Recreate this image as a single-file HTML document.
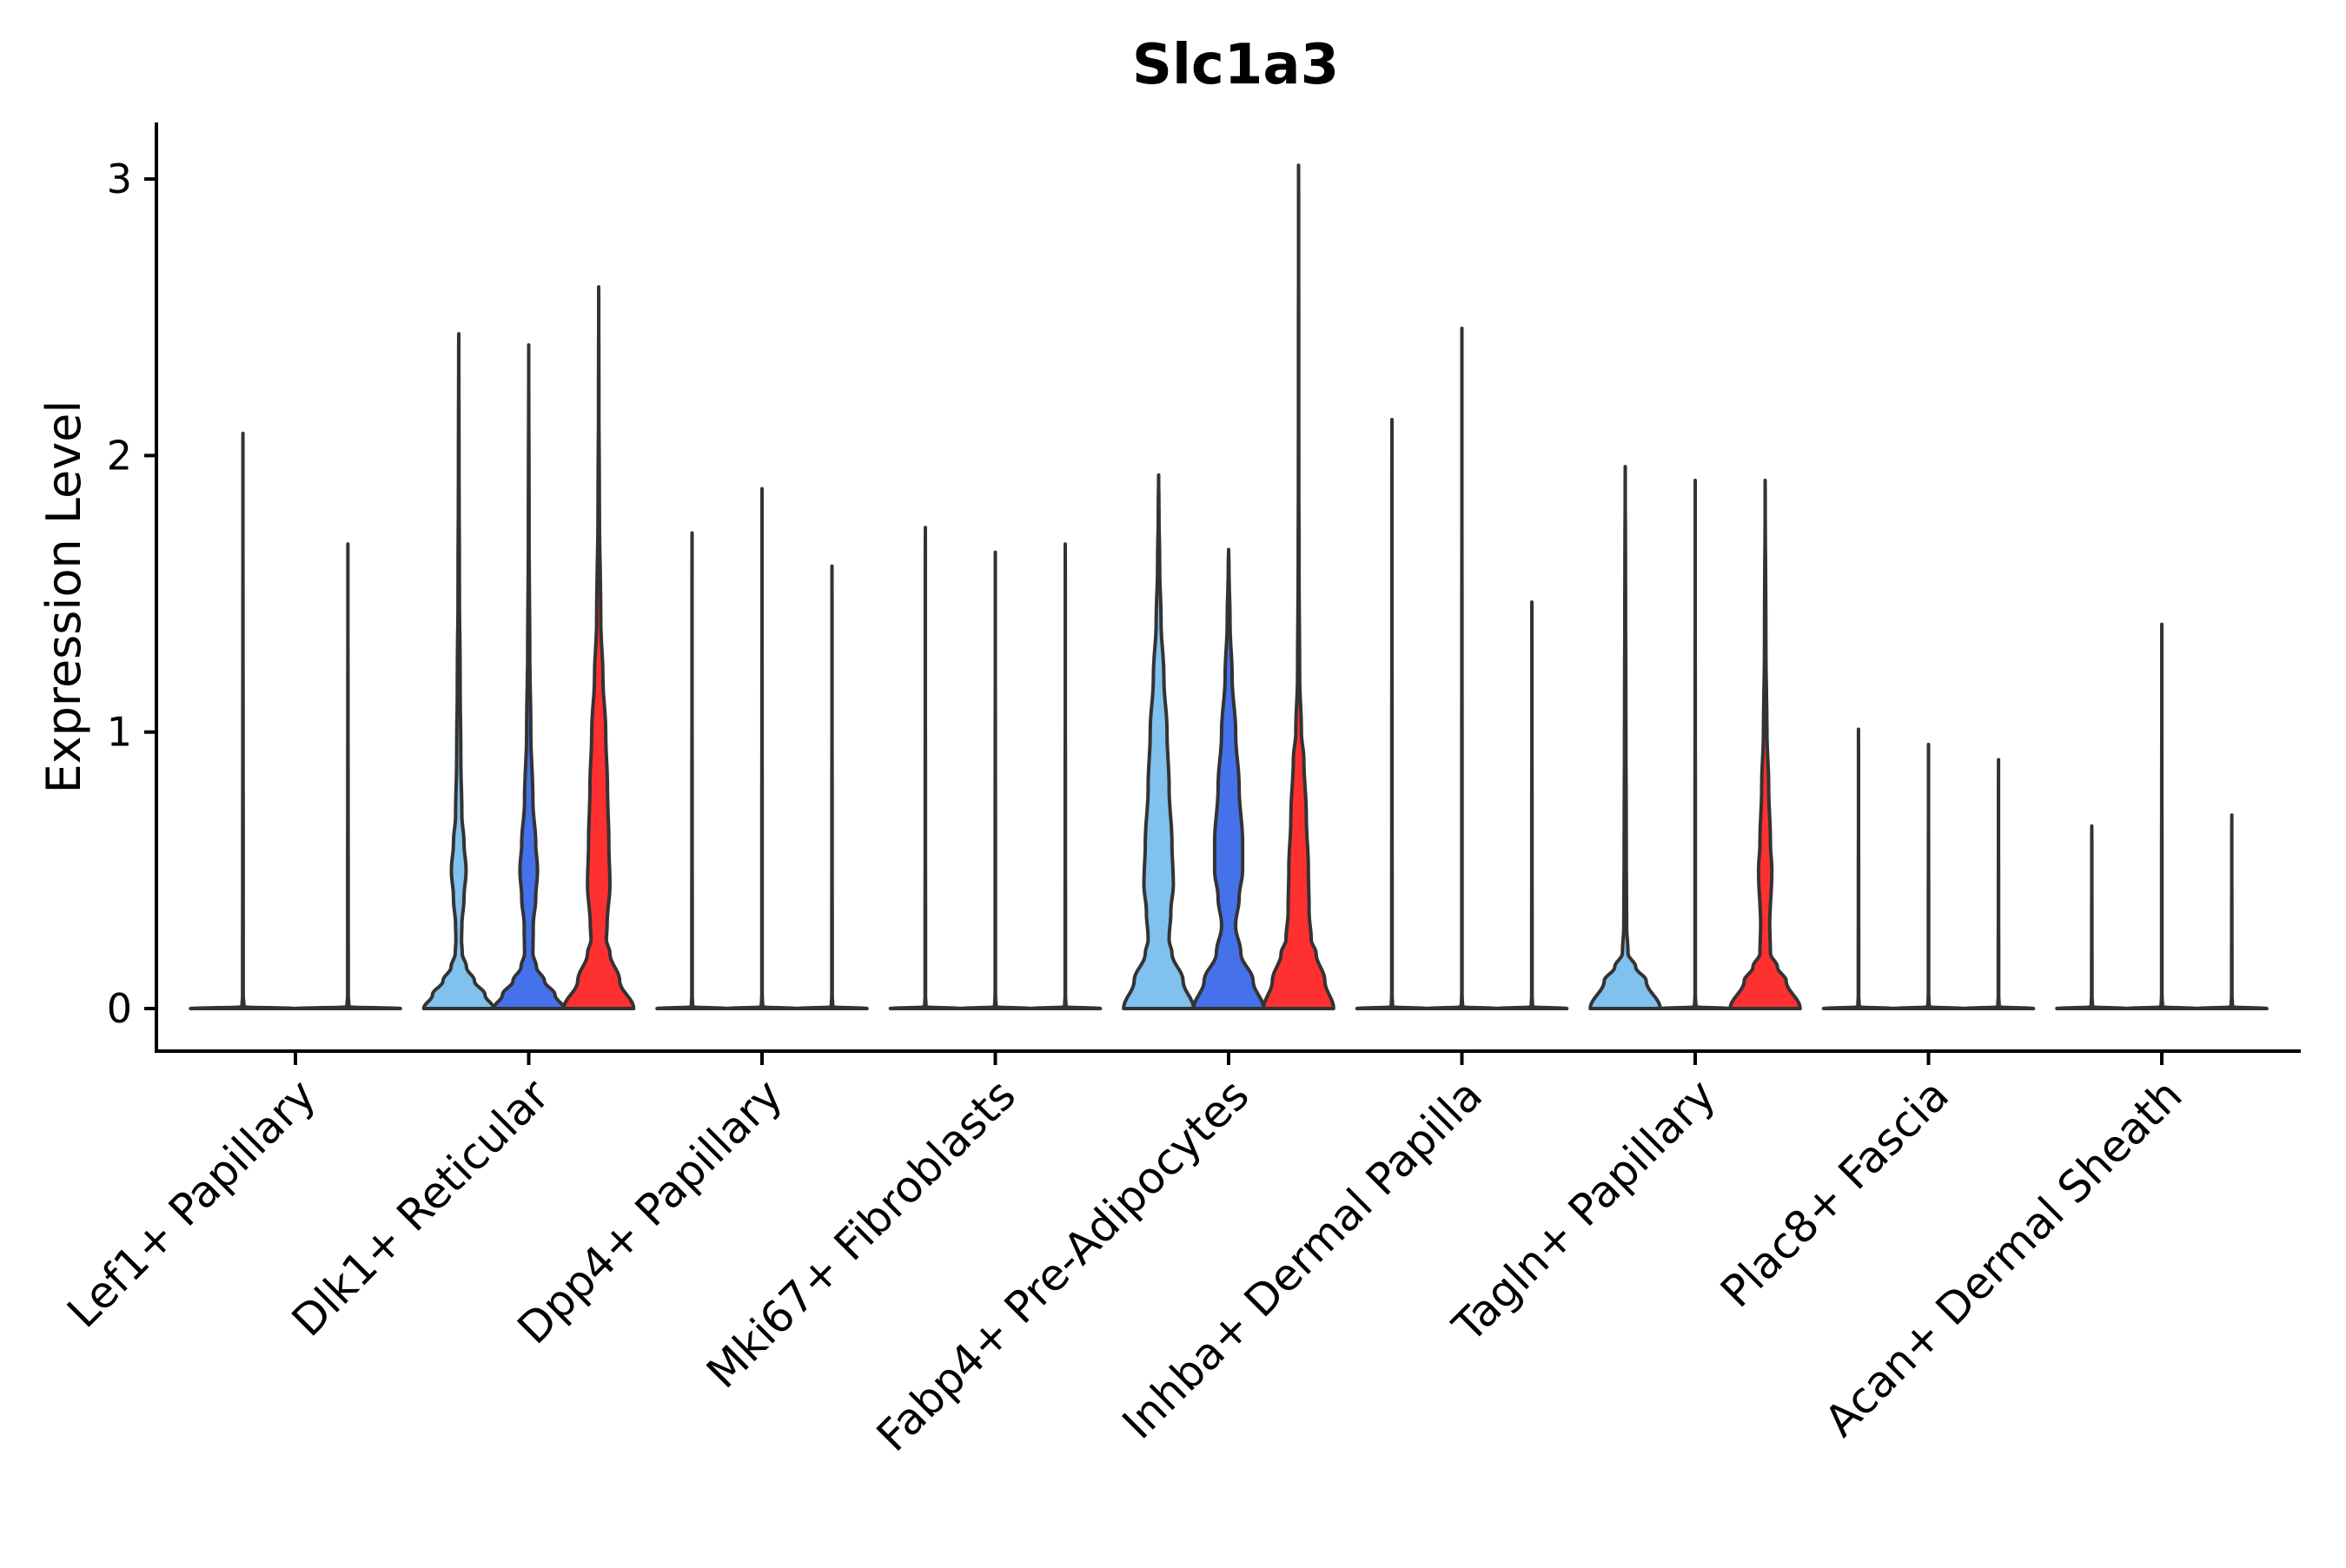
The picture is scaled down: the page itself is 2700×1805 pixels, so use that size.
<!DOCTYPE html>
<html><head><meta charset="utf-8"><style>
html,body{margin:0;padding:0;background:#fff}
svg text{font-family:"DejaVu Sans","Liberation Sans",sans-serif;fill:#000}
</style></head><body>
<svg id="chart" width="2700" height="1800" viewBox="0 0 2700 1800" xmlns="http://www.w3.org/2000/svg">
<rect width="2700" height="1800" fill="#fff"/>
<text x="1422" y="96" font-size="64" font-weight="bold" text-anchor="middle">Slc1a3</text>
<text transform="translate(92,687) rotate(-90)" font-size="54" text-anchor="middle">Expression Level</text>
<g id="plot"></g>
</svg>
<script>
const categories = ["Lef1+ Papillary","Dlk1+ Reticular","Dpp4+ Papillary","Mki67+ Fibroblasts","Fabp4+ Pre-Adipocytes","Inhba+ Dermal Papilla","Tagln+ Papillary","Plac8+ Fascia","Acan+ Dermal Sheath"];
const seriesColors = ["#80c1ee","#4571eb","#ff3030"];
// max value per violin; null = series absent
const maxLightBlue = [2.08, 2.44, 1.72, 1.74, 1.93, 2.13, 1.96, 1.01, 0.66];
const maxBlue      = [null, 2.40, 1.88, 1.65, 1.66, 2.46, 1.91, 0.955, 1.39];
const maxRed       = [1.68, 2.61, 1.60, 1.68, 3.05, 1.47, 1.91, 0.90, 0.70];
// density profiles: [value, relative half-width]
const flatProfile = [[0,1],[0.006,0.02],[0.05,0.006]];
const dlk1Light = [[0,1],[0.05,0.75],[0.1,0.45],[0.15,0.22],[0.2,0.1],[0.25,0.08],[0.3,0.09],[0.4,0.15],[0.5,0.21],[0.6,0.15],[0.7,0.09],[0.9,0.06],[1.2,0.04],[1.5,0.02],[2.0,0.008]];
const dlk1Blue  = [[0,1],[0.05,0.75],[0.1,0.45],[0.15,0.22],[0.2,0.12],[0.3,0.13],[0.4,0.2],[0.5,0.25],[0.6,0.2],[0.75,0.12],[1.0,0.06],[1.3,0.03],[1.7,0.01]];
const dlk1Red   = [[0,1],[0.1,0.6],[0.2,0.32],[0.25,0.22],[0.3,0.24],[0.45,0.32],[0.6,0.29],[0.8,0.25],[1.0,0.2],[1.2,0.12],[1.4,0.06],[1.8,0.02],[2.2,0.006]];
const fabpLight = [[0,1],[0.1,0.7],[0.2,0.38],[0.25,0.3],[0.35,0.35],[0.45,0.42],[0.6,0.38],[0.8,0.3],[1.0,0.24],[1.2,0.15],[1.4,0.07],[1.6,0.03],[1.8,0.01]];
const fabpBlue  = [[0,1],[0.1,0.7],[0.2,0.35],[0.3,0.2],[0.4,0.3],[0.5,0.4],[0.6,0.4],[0.8,0.3],[1.0,0.2],[1.2,0.1],[1.4,0.04],[1.6,0.01]];
const fabpRed   = [[0,1],[0.1,0.75],[0.2,0.5],[0.25,0.36],[0.35,0.3],[0.5,0.28],[0.7,0.22],[0.9,0.15],[1.0,0.08],[1.2,0.03],[1.6,0.012],[2.0,0.005]];
const taglLight = [[0,1],[0.1,0.6],[0.15,0.3],[0.2,0.08],[0.3,0.04],[0.6,0.03],[1.0,0.02],[1.5,0.01]];
const taglRed   = [[0,1],[0.1,0.6],[0.15,0.35],[0.2,0.15],[0.3,0.13],[0.5,0.19],[0.6,0.15],[0.8,0.1],[1.0,0.05],[1.3,0.02]];
const profiles = [
  [flatProfile, null, flatProfile],
  [dlk1Light, dlk1Blue, dlk1Red],
  [flatProfile, flatProfile, flatProfile],
  [flatProfile, flatProfile, flatProfile],
  [fabpLight, fabpBlue, fabpRed],
  [flatProfile, flatProfile, flatProfile],
  [taglLight, flatProfile, taglRed],
  [flatProfile, flatProfile, flatProfile],
  [flatProfile, flatProfile, flatProfile]
];
const filledFlags = [[false,false,false],[true,true,true],[false,false,false],[false,false,false],[true,true,true],[false,false,false],[true,false,true],[false,false,false],[false,false,false]];
const yTicks = [0,1,2,3];

const NS="http://www.w3.org/2000/svg";
const plot=document.getElementById('plot');
const X0=340, STEP=268.5;
function xScale(i){return X0+STEP*i;}
function yScale(v){return 1161-318.3*v;}
function mk(tag,attrs){const e=document.createElementNS(NS,tag);for(const k in attrs)e.setAttribute(k,attrs[k]);plot.appendChild(e);return e;}

let ax=mk('line',{x1:180,y1:141,x2:180,y2:1212,stroke:'#000','stroke-width':4});


ax=mk('line',{x1:178,y1:1210,x2:2648,y2:1210,stroke:'#000','stroke-width':4});


yTicks.forEach(t=>{
  const y=yScale(t);
  const tk=mk('line',{x1:166,y1:y,x2:180,y2:y,stroke:'#000','stroke-width':4});
  
  
  const tl=mk('text',{x:152,y:y+16,'font-size':46,'text-anchor':'end'});
  tl.textContent=t;
  
  
});
categories.forEach((c,i)=>{
  const x=xScale(i);
  const tk=mk('line',{x1:x,y1:1210,x2:x,y2:1226,stroke:'#000','stroke-width':4});
  
  
  const tl=mk('text',{x:0,y:0,'font-size':50,'text-anchor':'end',transform:`translate(${x+26},${1264}) rotate(-45)`});
  tl.textContent=c;
  
  
});

function smooth(prof){
  const out=[];
  for(let j=0;j<prof.length-1;j++){
    const a=prof[j],b=prof[j+1];
    for(let k=0;k<10;k++){
      const t=k/10, u=(1-Math.cos(Math.PI*t))/2;
      out.push([a[0]+(b[0]-a[0])*t, a[1]+(b[1]-a[1])*u]);
    }
  }
  out.push(prof[prof.length-1]);
  return out;
}

const maxes=[maxLightBlue,maxBlue,maxRed];
categories.forEach((c,i)=>{
  const present=[0,1,2].filter(s=>maxes[s][i]!==null);
  const n=present.length;
  const dodge=STEP*0.9/n;
  present.forEach((s,k)=>{
    const cx=xScale(i)+(k-(n-1)/2)*dodge;
    const hw=dodge/2;
    const mx=maxes[s][i];
    const prof=smooth(profiles[i][s].filter(p=>p[0]<mx).concat([[mx,0]]));
    const right=prof.map(p=>[cx+hw*p[1],yScale(p[0])]);
    const left=prof.slice().reverse().map(p=>[cx-hw*p[1],yScale(p[0])]);
    const pts=right.concat(left).map(p=>p[0].toFixed(1)+','+p[1].toFixed(1)).join(' ');
    const v=mk('polygon',{points:pts,fill:filledFlags[i][s]?seriesColors[s]:'none',stroke:'#333','stroke-width':4,'stroke-linejoin':'round'});
    
    
  });
});
</script>
</body></html>
